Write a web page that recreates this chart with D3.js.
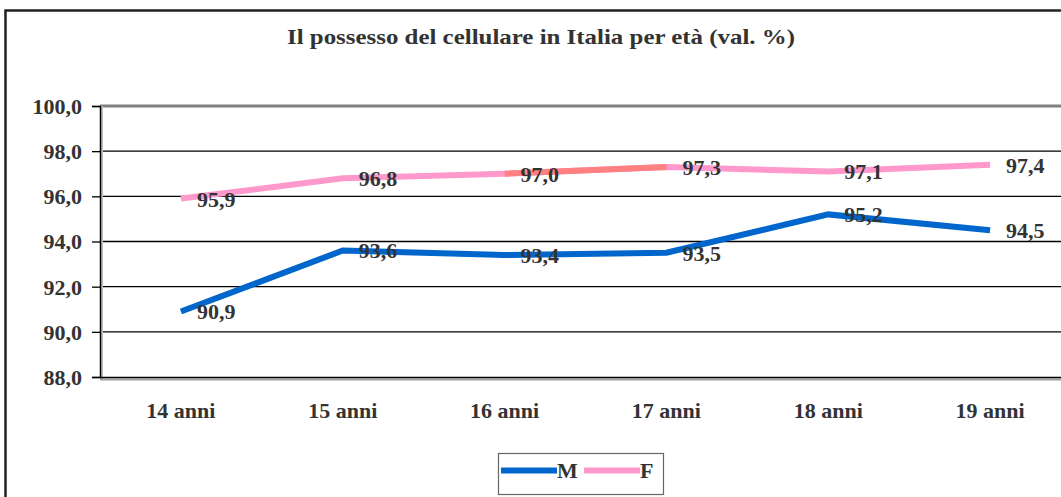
<!DOCTYPE html>
<html><head><meta charset="utf-8">
<script src="https://cdn.jsdelivr.net/npm/d3@7"></script>
<style>
html,body{margin:0;padding:0;background:#fff;}
svg{display:block;}
text{font-family:"Liberation Serif","Times New Roman",serif;font-weight:bold;fill:#333;}
</style></head>
<body>
<script>
const categories = ["14 anni","15 anni","16 anni","17 anni","18 anni","19 anni"];
const valuesM = [90.9, 93.6, 93.4, 93.5, 95.2, 94.5];
const valuesF = [95.9, 96.8, 97.0, 97.3, 97.1, 97.4];
const yTicks = [88, 90, 92, 94, 96, 98, 100];
const seriesNames = ["M", "F"];
const title = "Il possesso del cellulare in Italia per età (val. %)";

const W = 1061, H = 497;
const svg = d3.select("body").append("svg").attr("width", W).attr("height", H);

// outer chart border
svg.append("rect").attr("x", 5.5).attr("y", 10.5).attr("width", 1100).attr("height", 600)
  .attr("fill", "#fff").attr("stroke", "#222").attr("stroke-width", 2.5);

svg.append("text").attr("x", 541).attr("y", 44).attr("text-anchor", "middle")
  .attr("font-size", 21).attr("textLength", 508).attr("lengthAdjust", "spacingAndGlyphs")
  .text(title);

const plotL = 100, plotR = 1071, plotT = 106, plotB = 377;
const x = d3.scaleBand().domain(categories).range([plotL, plotR]);
const y = d3.scaleLinear().domain([88, 100]).range([plotB, plotT]);
const fmt = v => d3.format(".1f")(v).replace(".", ",");

// gridlines
svg.append("g").selectAll("line").data(yTicks.filter(t => t > 88 && t < 100)).join("line")
  .attr("x1", plotL).attr("x2", plotR).attr("y1", d => y(d)).attr("y2", d => y(d))
  .attr("stroke", "#000").attr("stroke-width", 1.3);

// plot top border (gray)
svg.append("line").attr("x1", plotL).attr("x2", plotR).attr("y1", y(100)).attr("y2", y(100))
  .attr("stroke", "#808080").attr("stroke-width", 3);
// shadows
svg.append("line").attr("x1", plotL + 2).attr("x2", plotL + 2).attr("y1", plotT).attr("y2", plotB + 2)
  .attr("stroke", "#c0c0c0").attr("stroke-width", 2);
svg.append("line").attr("x1", plotL).attr("x2", plotR).attr("y1", plotB + 2.5).attr("y2", plotB + 2.5)
  .attr("stroke", "#a0a0a0").attr("stroke-width", 2);

// y axis
const yAxis = d3.axisLeft(y).tickValues(yTicks).tickFormat(fmt).tickSize(8).tickPadding(10);
const gy = svg.append("g").attr("transform", `translate(${plotL},0)`).call(yAxis);
gy.select(".domain").attr("stroke", "#000").attr("stroke-width", 1.5);
gy.selectAll(".tick line").attr("stroke", "#000").attr("stroke-width", 1.3);
gy.selectAll(".tick text").attr("font-size", 22).attr("font-family", null).attr("fill", "#333")
  .attr("dy", "0.34em").attr("x", -18);

// x axis
const xAxis = d3.axisBottom(x).tickSize(0).tickPadding(0);
const gx = svg.append("g").attr("transform", `translate(0,${plotB})`).call(xAxis);
gx.select(".domain").attr("stroke", "#000").attr("stroke-width", 1.5);
gx.selectAll(".tick text").attr("font-size", 22).attr("font-family", null).attr("fill", "#333")
  .attr("dy", null).attr("y", 41);

const cx = d => x(d) + x.bandwidth() / 2;
const line = d3.line().x(d => cx(d.c)).y(d => y(d.v));
const mData = categories.map((c, i) => ({c, v: valuesM[i]}));
const fData = categories.map((c, i) => ({c, v: valuesF[i]}));

svg.append("path").datum(fData).attr("d", line).attr("fill", "none")
  .attr("stroke", "#ff99cc").attr("stroke-width", 6);
// highlighted segment between 16 and 17 anni
svg.append("path").datum(fData.slice(2, 4)).attr("d", line).attr("fill", "none")
  .attr("stroke", "#ff8080").attr("stroke-width", 6);
svg.append("path").datum(mData).attr("d", line).attr("fill", "none")
  .attr("stroke", "#0066cc").attr("stroke-width", 6);

// data labels
[mData, fData].forEach(data => {
  svg.append("g").selectAll("text").data(data).join("text")
    .attr("x", d => cx(d.c) + 16).attr("y", d => y(d.v)).attr("dy", "0.36em")
    .attr("font-size", 22).text(d => fmt(d.v));
});

// legend
const lg = svg.append("g");
lg.append("rect").attr("x", 498.5).attr("y", 453.5).attr("width", 165).attr("height", 41)
  .attr("fill", "#fff").attr("stroke", "#666").attr("stroke-width", 1.2);
const legendColors = ["#0066cc", "#ff99cc"];
const legX = [501, 584];
seriesNames.forEach((n, i) => {
  lg.append("line").attr("x1", legX[i]).attr("x2", legX[i] + 56).attr("y1", 470.5).attr("y2", 470.5)
    .attr("stroke", legendColors[i]).attr("stroke-width", 6);
  lg.append("text").attr("x", legX[i] + 56).attr("y", 478).attr("font-size", 22).text(n);
});
</script>
</body></html>
